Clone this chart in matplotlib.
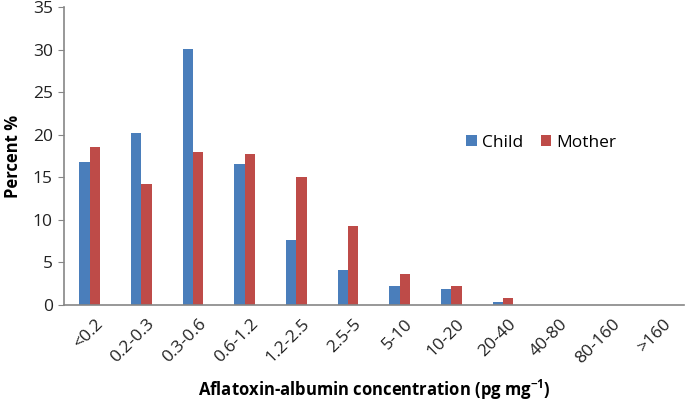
import matplotlib
matplotlib.use('Agg')
import matplotlib.pyplot as plt
import numpy as np

plt.rcParams['font.family'] = ['Open Sans', 'DejaVu Sans']
plt.rcParams['mathtext.fontset'] = 'custom'
plt.rcParams['mathtext.bf'] = 'Open Sans:bold'
plt.rcParams['mathtext.rm'] = 'Open Sans'

# Datos
categorias = ['<0.2', '0.2-0.3', '0.3-0.6', '0.6-1.2', '1.2-2.5', '2.5-5',
              '5-10', '10-20', '20-40', '40-80', '80-160', '>160']
nino = [16.8, 20.2, 30.1, 16.6, 7.6, 4.1, 2.2, 1.9, 0.3, 0, 0, 0]
madre = [18.6, 14.2, 18.0, 17.7, 15.0, 9.3, 3.7, 2.2, 0.8, 0, 0, 0]

azul = '#4a7ebb'
rojo = '#be4b48'
gris = '#868686'

fig = plt.figure(figsize=(6.85, 4.07), dpi=100)
ax = fig.add_axes([0.0934, 0.2506, 0.905, 0.732])

x = np.arange(len(categorias))
ancho = 0.2
ax.bar(x - ancho / 2, nino, ancho, color=azul, label='Child')
ax.bar(x + ancho / 2, madre, ancho, color=rojo, label='Mother')

ax.set_xlim(-0.5, len(categorias) - 0.5)
ax.set_ylim(0, 35)
ax.set_yticks(range(0, 36, 5))
ax.set_xticks(x + 0.1)
ax.set_xticklabels(categorias, rotation=45, ha='right', rotation_mode='anchor')

for lado in ['top', 'right']:
    ax.spines[lado].set_visible(False)
for lado in ['left', 'bottom']:
    ax.spines[lado].set_color(gris)
    ax.spines[lado].set_linewidth(1.2)
ax.tick_params(axis='x', length=0, labelsize=12.5, colors='#222222', pad=8)
ax.tick_params(axis='y', length=4, color=gris, labelsize=12.5, labelcolor='#222222', pad=4)

ax.set_ylabel('Percent %', fontsize=12, fontweight='bold', labelpad=8)
ax.set_xlabel('Aflatoxin-albumin concentration (pg mg$\\mathbf{^{-1}}$)', fontsize=12,
              fontweight='bold', labelpad=8)

ax.legend(loc='center', bbox_to_anchor=(0.77, 0.545), ncol=2, frameon=False,
          fontsize=12.5, handlelength=0.6, handleheight=0.6, columnspacing=1.0,
          handletextpad=0.3)

plt.savefig('out.png', dpi=100)
